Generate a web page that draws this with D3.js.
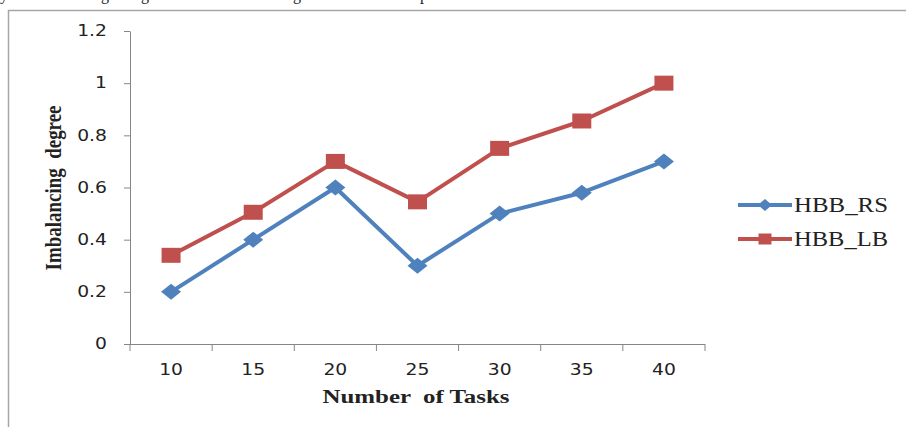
<!DOCTYPE html>
<html>
<head>
<meta charset="utf-8">
<script src="https://cdn.jsdelivr.net/npm/d3@7"></script>
<style>
  html, body { margin: 0; padding: 0; background: #fff; }
  svg { display: block; }
</style>
</head>
<body>
<svg id="chart" width="906" height="427"></svg>
<script>
// ---- data ----
const categories = ["10", "15", "20", "25", "30", "35", "40"];
const seriesNames = ["HBB_RS", "HBB_LB"];
const hbbRS = [0.2, 0.4, 0.6, 0.3, 0.5, 0.58, 0.7];
const hbbLB = [0.34, 0.505, 0.70, 0.545, 0.75, 0.855, 1.0];
const yTicks = [0, 0.2, 0.4, 0.6, 0.8, 1, 1.2];
const xTitle = "Number  of Tasks";
const yTitle = "Imbalancing  degree";

// ---- layout ----
const svg = d3.select("#chart");
const SX = 1.25; // horizontal stretch of the source picture
const colors = ["#4F81BD", "#C0504D"];
const axisColor = "#868686";

svg.append("rect").attr("width", 906).attr("height", 427).attr("fill", "#fff");

// clipped line of text from the page above
const frag = svg.append("g").attr("font-family", "Liberation Serif").attr("font-size", 16).attr("fill", "#222");
[["y", 0], ["g", 101], ["g", 141], ["g", 293], ["p", 420]].forEach(([c, x]) => {
  frag.append("text").attr("x", x).attr("y", 0).text(c);
});

// frame
svg.append("path")
  .attr("d", "M8.5,427 V10.5 H906")
  .attr("fill", "none").attr("stroke", "#a6a6a6").attr("stroke-width", 1.5);

const x = d3.scaleBand().domain(categories).range([130, 705]);
const y = d3.scaleLinear().domain([0, 1.2]).range([344, 31]);

function stretch(sel) {
  sel.each(function () {
    const t = d3.select(this);
    const xv = +t.attr("x") || 0;
    t.attr("x", xv / SX).attr("transform", `scale(${SX},1)`);
  });
}

// y axis
const yAxis = svg.append("g")
  .attr("transform", "translate(130,0)")
  .call(d3.axisLeft(y).tickValues(yTicks).tickSize(6).tickSizeOuter(0).tickPadding(17)
    .tickFormat(d => d3.format("~g")(d)));
yAxis.select(".domain").attr("stroke", axisColor);
yAxis.selectAll(".tick line").attr("stroke", axisColor);
yAxis.selectAll(".tick text")
  .attr("font-family", "DejaVu Sans").attr("font-size", 15).attr("fill", "#222")
  .call(stretch);

// x axis
const xAxis = svg.append("g")
  .attr("transform", "translate(0,344)")
  .call(d3.axisBottom(x).tickSize(0).tickPadding(20));
xAxis.select(".domain").remove();
xAxis.append("line").attr("x1", x.range()[0]).attr("x2", x.range()[1])
  .attr("y1", 0.5).attr("y2", 0.5).attr("stroke", axisColor);
const bounds = categories.map(c => x(c)).concat([x(categories[categories.length - 1]) + x.bandwidth()]);
xAxis.selectAll(".bound").data(bounds).join("line").attr("class", "bound")
  .attr("x1", d => d).attr("x2", d => d).attr("y1", 0).attr("y2", 7)
  .attr("stroke", axisColor);
xAxis.selectAll(".tick text")
  .attr("font-family", "DejaVu Sans").attr("font-size", 15).attr("fill", "#222")
  .call(stretch);

// axis titles
svg.append("text")
  .attr("x", 416).attr("y", 403)
  .attr("text-anchor", "middle")
  .attr("font-family", "Liberation Serif").attr("font-weight", "bold").attr("font-size", 18)
  .attr("fill", "#222")
  .attr("textLength", 187).attr("lengthAdjust", "spacingAndGlyphs")
  .style("white-space", "pre")
  .text(xTitle);

svg.append("text")
  .attr("transform", `translate(61,188) scale(${SX},1) rotate(-90)`)
  .attr("text-anchor", "middle")
  .attr("font-family", "Liberation Serif").attr("font-weight", "bold").attr("font-size", 18)
  .attr("fill", "#222")
  .attr("textLength", 165).attr("lengthAdjust", "spacingAndGlyphs")
  .style("white-space", "pre")
  .text(yTitle);

// markers
function diamond(cx, cy, hw, hh) {
  return `M${cx},${cy - hh} L${cx + hw},${cy} L${cx},${cy + hh} L${cx - hw},${cy} Z`;
}
function square(cx, cy, hw, hh) {
  return `M${cx - hw},${cy - hh} H${cx + hw} V${cy + hh} H${cx - hw} Z`;
}
const shapes = [diamond, square];
const markerSize = [[10, 8], [9.5, 7.5]];
const legendMarker = [[7, 6], [6.5, 5.5]];

const series = [hbbRS, hbbLB];
const line = d3.line().x((d, i) => x(categories[i]) + x.bandwidth() / 2).y(d => y(d));

series.forEach((vals, s) => {
  svg.append("path").datum(vals)
    .attr("d", line)
    .attr("fill", "none").attr("stroke", colors[s]).attr("stroke-width", 4)
    .attr("stroke-linejoin", "round");
  svg.append("g").selectAll("path").data(vals).join("path")
    .attr("d", (d, i) => shapes[s](x(categories[i]) + x.bandwidth() / 2, y(d), markerSize[s][0], markerSize[s][1]))
    .attr("fill", colors[s]);
});

// legend
const legendY = [205, 239];
seriesNames.forEach((name, s) => {
  const g = svg.append("g");
  g.append("line").attr("x1", 738).attr("x2", 792).attr("y1", legendY[s]).attr("y2", legendY[s])
    .attr("stroke", colors[s]).attr("stroke-width", 4);
  g.append("path").attr("d", shapes[s](765, legendY[s], legendMarker[s][0], legendMarker[s][1]))
    .attr("fill", colors[s]);
  g.append("text")
    .attr("x", 794).attr("y", legendY[s] + 7)
    .attr("font-family", "Liberation Serif").attr("font-size", 20).attr("fill", "#222")
    .attr("textLength", 94).attr("lengthAdjust", "spacingAndGlyphs")
    .text(name);
});
</script>
</body>
</html>
